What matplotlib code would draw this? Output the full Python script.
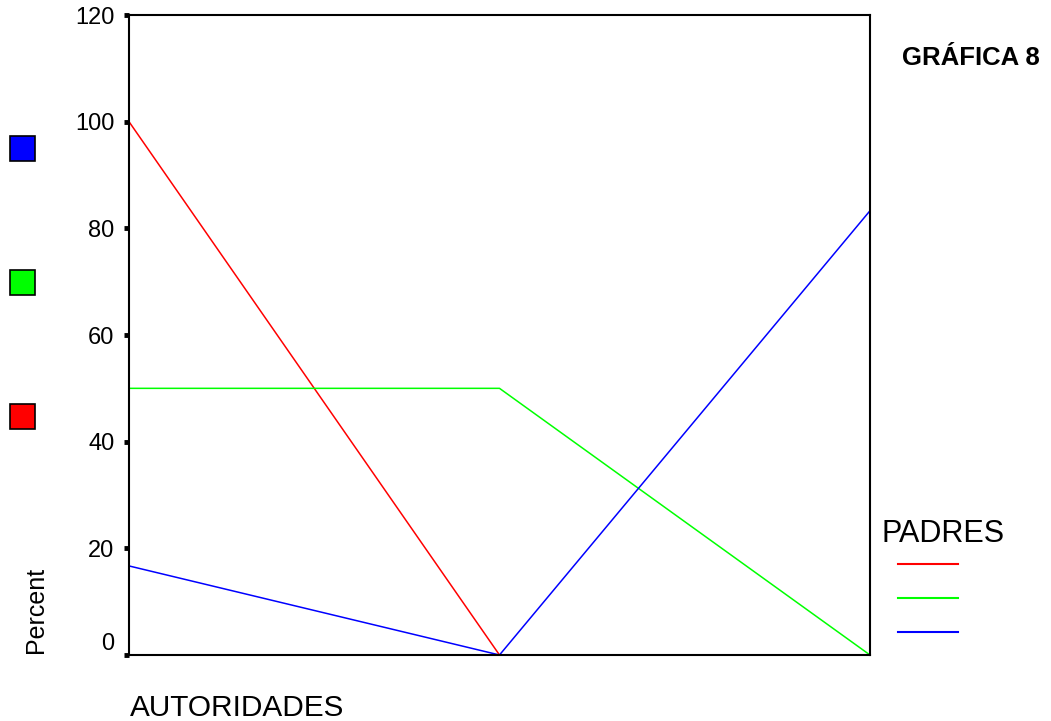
"""
GRÁFICA 8 - porcentaje por AUTORIDADES, series de PADRES
"""
import matplotlib
matplotlib.use("Agg")
import matplotlib.pyplot as plt
from matplotlib.lines import Line2D
from matplotlib import rcParams

rcParams["font.family"] = ["Liberation Sans", "DejaVu Sans"]

# categorías de AUTORIDADES (sin etiqueta visible)
categorias = [0, 1, 2]

# porcentajes por serie de PADRES
rojo = [100.0, 0.0, 0.0]
verde = [50.0, 50.0, 0.0]
azul = [16.7, 0.0, 83.3]

series = [(rojo, "#ff0000"), (verde, "#00ff00"), (azul, "#0000ff")]
yticks = [0, 20, 40, 60, 80, 100, 120]

fig = plt.figure(figsize=(10.51, 7.21), dpi=100)
ax = fig.add_axes([129 / 1051, 1 - 655 / 721, (870 - 129) / 1051, (655 - 15) / 721])

for valores, color in series:
    ax.plot(categorias, valores, color=color, linewidth=1.1, zorder=2)

ax.set_xlim(0, 2)
ax.set_ylim(0, 120)
ax.set_xticks([])
ax.set_yticks(yticks)
ax.tick_params(axis="y", direction="out", length=3.5, width=3.5, pad=7, labelsize=17)
for s in ax.spines.values():
    s.set_linewidth(1.5)
    s.set_zorder(3)

# la etiqueta 0 va un poco por encima de su marca
ax.get_yticklabels()[0].set_verticalalignment("bottom")

fig.text(130 / 1051, 1 - 716 / 721, "AUTORIDADES", fontsize=21.4, ha="left", va="baseline")
fig.text(36 / 1051, 1 - 610 / 721, "Percent", fontsize=18, rotation=90, ha="center", va="center")
fig.text(971 / 1051, 1 - 58 / 721, "GRÁFICA 8", fontsize=18.5, fontweight="bold", ha="center", va="center")
fig.text(881 / 1051, 1 - 542 / 721, "PADRES", fontsize=22, ha="left", va="baseline")

# leyenda derecha: líneas de PADRES
handles = [Line2D([], [], color=c, linewidth=1.5) for _, c in series]
fig.legend(handles, ["", "", ""], fontsize=18,
           loc="upper left", bbox_to_anchor=(898 / 1051, 1 - 554 / 721),
           frameon=False, handlelength=2.4, labelspacing=0.4, borderpad=0,
           handletextpad=0, borderaxespad=0)

# leyenda izquierda: cuadros de color
cuadros = [Line2D([], [], marker="s", linestyle="none", markersize=18,
                  markerfacecolor=c, markeredgecolor="black", markeredgewidth=1.2)
           for _, c in reversed(series)]
fig.legend(cuadros, ["", "", ""], fontsize=10, loc="upper left",
           bbox_to_anchor=(1 / 1051, 1 - 135 / 721), frameon=False,
           labelspacing=8.65, borderpad=0, handletextpad=0, handlelength=2)

fig.savefig("out.png", dpi=100)
